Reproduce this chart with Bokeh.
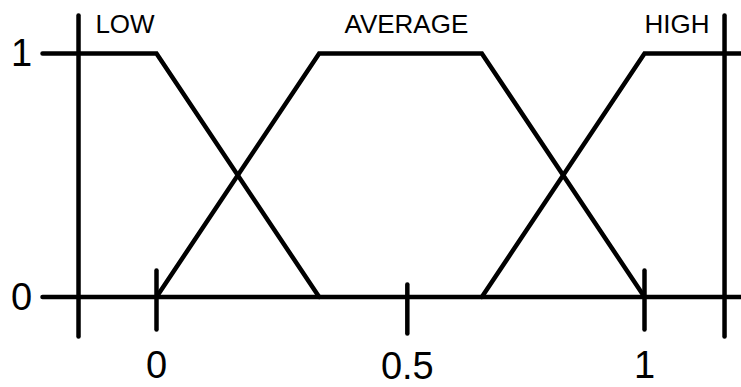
from bokeh.plotting import figure
from bokeh.embed import file_html
from bokeh.resources import INLINE
from bokeh.models import Range1d
from bokeh.core.properties import value

# Membership functions (x breakpoints, membership values)
low_x = [-0.2336, 0.0, 1/3]
low_y = [1, 1, 0]
avg_x = [0.0, 1/3, 2/3, 1.0]
avg_y = [0, 1, 1, 0]
high_x = [2/3, 1.0, 1.25]
high_y = [0, 1, 1]

set_names = ["LOW", "AVERAGE", "HIGH"]
set_label_x = [-0.0645, 0.512, 1.0666]
set_label_y = [1.123, 1.123, 1.123]

# Axis frame
x_axis_start, x_axis_end = -0.2336, 1.25
vert_axis_x = [-0.1598, 1.164]
vert_axis_y0, vert_axis_y1 = -0.162, 1.156

x_tick_positions = [0.0, 0.514, 1.0]
x_tick_labels = ["0", "0.5", "1"]
x_tick_top = [0.109, 0.051, 0.109]
x_tick_bottom = [-0.1335, -0.150, -0.1335]
x_label_y = [-0.276, -0.281, -0.276]
y_tick_values = [0, 1]
y_tick_labels = ["0", "1"]

W, H = 741, 387
p = figure(width=W, height=H, output_backend="svg", toolbar_location=None,
           x_range=Range1d(-0.31967, 1.19877), y_range=Range1d(-0.37166, 1.21766),
           min_border=0, min_border_left=0, min_border_right=0,
           min_border_top=0, min_border_bottom=0)
p.axis.visible = False
p.grid.visible = False
p.outline_line_color = None
p.background_fill_color = "white"
p.border_fill_color = "white"

lw = 4.5
style = dict(line_color="black", line_width=lw, line_cap="round", line_join="miter")

# horizontal x axis line at 0
p.segment(x0=[x_axis_start], y0=[0], x1=[x_axis_end], y1=[0], **style)
# vertical frame lines
p.segment(x0=vert_axis_x, y0=[vert_axis_y0]*2, x1=vert_axis_x, y1=[vert_axis_y1]*2, **style)
# ticks
p.segment(x0=x_tick_positions, y0=x_tick_top, x1=x_tick_positions, y1=x_tick_bottom, **style)

# membership functions
p.line(low_x, low_y, **style)
p.line(avg_x, avg_y, **style)
p.line(high_x, high_y, **style)

font = value("Liberation Sans")
# x tick labels
p.text(x=x_tick_positions, y=x_label_y, text=x_tick_labels, text_font=font,
       text_font_size="38px", text_align="center", text_baseline="alphabetic",
       text_color="black")
# y tick labels
p.text(x=[-0.2766]*2, y=y_tick_values, text=y_tick_labels, text_font=font,
       text_font_size="38px", text_align="center", text_baseline="alphabetic",
       y_offset=-1, text_color="black")
# set names
p.text(x=set_label_x, y=set_label_y, text=set_names, text_font=font,
       text_font_size="26px", text_align="center", text_baseline="alphabetic",
       text_color="black")

open("out.html", "w").write(file_html(p, INLINE))
